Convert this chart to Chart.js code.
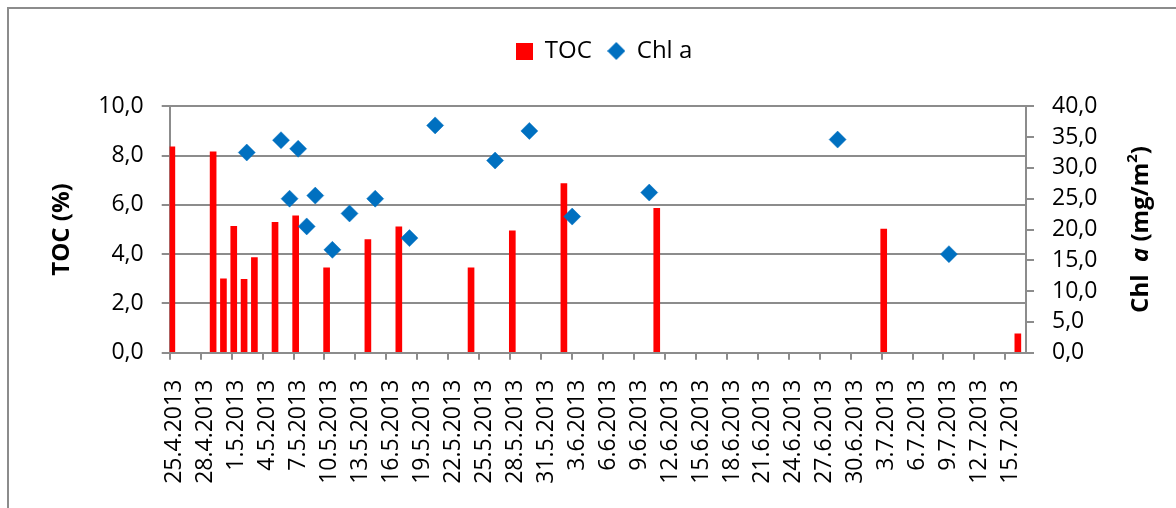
<!DOCTYPE html>
<html>
<head>
<meta charset="utf-8">
<title>TOC and Chl a</title>
<script src="https://cdn.jsdelivr.net/npm/chart.js@4.4.1/dist/chart.umd.min.js"></script>
<style>
  html, body { margin: 0; padding: 0; background: #fff; overflow: hidden; }
  .frame { position: absolute; left: 7px; top: 7px; width: 1400px; height: 800px; border: 2px solid #8c8c8c; }
  .wrap { position: relative; width: 1176px; height: 508px; }
</style>
</head>
<body>
<div class="frame"></div>
<div class="wrap"><canvas id="chart"></canvas></div>
<script>
const axisStart = '25.4.2013';
const axisDays = 83;
const sampleDates = ['25.4.2013', '29.4.2013', '30.4.2013', '1.5.2013', '2.5.2013', '3.5.2013', '5.5.2013', '7.5.2013', '10.5.2013',
  '14.5.2013', '17.5.2013', '24.5.2013', '28.5.2013', '2.6.2013', '11.6.2013', '3.7.2013', '16.7.2013'];
const tocValues = [8.36, 8.15, 3.0, 5.13, 2.98, 3.86, 5.29, 5.55, 3.44, 4.59, 5.11, 3.44, 4.95, 6.86, 5.86, 5.02, 0.77];
const chlValues = [32.5, 34.5, 25.0, 33.1, 20.5, 25.5, 16.7, 22.6, 25.0, 18.6, 36.9, 31.2, 36.0, 22.1, 26.0, 34.6, 16.0];
// Chl a sits on its own (hidden) date axis that starts 9 days earlier and spans 100 days
const chlAxisStart = '16.4.2013';
const chlAxisDays = 100;

const FONT = '"Open Sans", sans-serif';
const GRID = '#8c8c8c';
const dayMs = 86400000;

const toTime = (s) => {
  const [d, m, y] = s.split('.').map(Number);
  return Date.UTC(y, m - 1, d);
};
const dayLabel = (t) => {
  const d = new Date(t);
  return `${d.getUTCDate()}.${d.getUTCMonth() + 1}.${d.getUTCFullYear()}`;
};
const comma = (v) => Number(v).toFixed(1).replace('.', ',');

const days = Array.from({ length: axisDays }, (_, i) => dayLabel(toTime(axisStart) + i * dayMs));
const tocData = days.map((day) => {
  const k = sampleDates.indexOf(day);
  return k >= 0 ? tocValues[k] : null;
});
const chlData = sampleDates.map((day, i) => ({ x: (toTime(day) - toTime(chlAxisStart)) / dayMs, y: chlValues[i] }));

const marker = (shape, color, size) => {
  const c = document.createElement('canvas');
  c.width = size;
  c.height = size;
  const g = c.getContext('2d');
  g.fillStyle = color;
  if (shape === 'diamond') {
    g.beginPath();
    g.moveTo(size / 2, 0);
    g.lineTo(size, size / 2);
    g.lineTo(size / 2, size);
    g.lineTo(0, size / 2);
    g.closePath();
    g.fill();
  } else {
    g.fillRect(0, 0, size, size);
  }
  return c;
};
const legendMarkers = [marker('square', '#ff0000', 17), marker('diamond', '#0070c0', 18)];

// legend takes the whole band above the plot, items sit near its middle
const legendBox = {
  id: 'legendBox',
  beforeUpdate(chart) {
    const legend = chart.legend;
    if (legend && !legend.fitPatched) {
      const fit = legend.fit;
      legend.fit = function () { fit.call(this); this.height = 106.3; };
      legend.fitPatched = true;
    }
  },
  afterLayout(chart) {
    const legend = chart.legend;
    legend.left += 16;
    legend.right += 16;
    legend.top += 23;
  }
};

// right axis title reads bottom-to-top with italic a and superscript 2
const rightTitle = {
  id: 'rightTitle',
  afterDraw(chart) {
    const { ctx, chartArea } = chart;
    const parts = [
      { text: 'Chl  ', font: `bold 24px ${FONT}` },
      { text: 'a', font: `italic bold 24px ${FONT}` },
      { text: ' (mg/m', font: `bold 24px ${FONT}` },
      { text: '2', font: `bold 15px ${FONT}`, rise: 8 },
      { text: ')', font: `bold 24px ${FONT}` }
    ];
    ctx.save();
    let total = 0;
    parts.forEach((p) => { ctx.font = p.font; p.w = ctx.measureText(p.text).width; total += p.w; });
    ctx.translate(1141, (chartArea.top + chartArea.bottom) / 2);
    ctx.rotate(-Math.PI / 2);
    ctx.fillStyle = '#000';
    ctx.textBaseline = 'middle';
    let x = -total / 2;
    parts.forEach((p) => {
      ctx.font = p.font;
      ctx.fillText(p.text, x, -(p.rise || 0));
      x += p.w;
    });
    ctx.restore();
  }
};

Chart.defaults.font.family = FONT;
Chart.defaults.color = '#000';

new Chart(document.getElementById('chart'), {
  type: 'bar',
  data: {
    labels: days,
    datasets: [
      {
        label: 'TOC',
        data: tocData,
        backgroundColor: '#ff0000',
        barThickness: 6,
        xAxisID: 'x',
        yAxisID: 'y',
        order: 2
      },
      {
        type: 'line',
        label: 'Chl a',
        data: chlData,
        showLine: false,
        pointStyle: 'rectRot',
        pointRadius: 8.5,
        pointBackgroundColor: '#0070c0',
        pointBorderColor: '#0070c0',
        pointBorderWidth: 0.5,
        xAxisID: 'x2',
        yAxisID: 'y2',
        order: 1
      }
    ]
  },
  options: {
    responsive: true,
    maintainAspectRatio: false,
    animation: false,
    layout: { padding: 0 },
    plugins: {
      tooltip: { enabled: false },
      legend: {
        position: 'top',
        labels: {
          usePointStyle: true,
          boxWidth: 17,
          boxHeight: 17,
          padding: 16,
          color: '#000',
          font: { size: 24 },
          generateLabels(chart) {
            const items = Chart.defaults.plugins.legend.labels.generateLabels(chart);
            items.sort((a, b) => a.datasetIndex - b.datasetIndex);
            items.forEach((item) => { item.pointStyle = legendMarkers[item.datasetIndex]; });
            return items;
          }
        }
      }
    },
    scales: {
      x: {
        type: 'category',
        offset: true,
        grid: {
          offset: true,
          drawOnChartArea: false,
          tickLength: 7,
          lineWidth: 2,
          color: GRID,
          tickColor: (c) => (c.index % 3 === 0 ? GRID : 'rgba(0,0,0,0)')
        },
        border: { display: true, color: GRID, width: 2 },
        ticks: {
          autoSkip: false,
          minRotation: 90,
          maxRotation: 90,
          padding: 20,
          color: '#000',
          font: { size: 23 },
          callback: (v, i) => (i % 3 === 0 ? days[i] : '')
        },
        afterFit: (s) => { s.height = 155.3; }
      },
      x2: {
        type: 'linear',
        display: false,
        offset: false,
        grid: { offset: false },
        min: 0,
        max: chlAxisDays
      },
      y: {
        position: 'left',
        min: 0,
        max: 10,
        ticks: {
          stepSize: 1,
          padding: 18,
          color: '#000',
          font: { size: 23 },
          callback: (v) => (v % 2 === 0 ? comma(v) : '')
        },
        grid: {
          lineWidth: 2,
          tickLength: 8,
          tickColor: GRID,
          color: (c) => (c.tick && c.tick.value % 2 === 0 ? GRID : 'rgba(0,0,0,0)')
        },
        border: { display: true, color: GRID, width: 2 },
        title: {
          display: true,
          text: 'TOC (%)',
          color: '#000',
          font: { size: 24, weight: 'bold' },
          padding: { top: 48, bottom: 0 }
        },
        afterFit: (s) => { s.width = 169.7; }
      },
      y2: {
        position: 'right',
        min: 0,
        max: 40,
        ticks: { stepSize: 5, padding: 18, color: '#000', font: { size: 23 }, callback: (v) => comma(v) },
        grid: { drawOnChartArea: false, lineWidth: 2, tickLength: 8, color: GRID },
        border: { display: true, color: GRID, width: 2 },
        afterFit: (s) => { s.width = 150; }
      }
    }
  },
  plugins: [legendBox, rightTitle]
});
</script>
</body>
</html>
